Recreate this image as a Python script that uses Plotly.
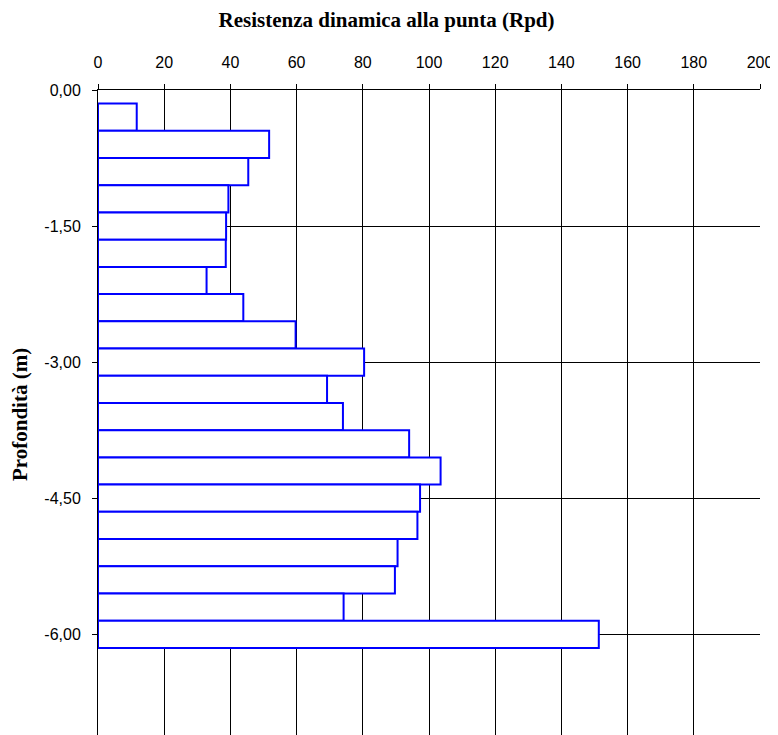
import plotly.graph_objects as go


# profondità (m) del centro di ogni intervallo e resistenza Rpd letta
depths = [-0.30, -0.60, -0.90, -1.20, -1.50, -1.80, -2.10, -2.40, -2.70, -3.00,
          -3.30, -3.60, -3.90, -4.20, -4.50, -4.80, -5.10, -5.40, -5.70, -6.00]
rpd = [11.7, 51.7, 45.4, 39.4, 38.7, 38.6, 32.8, 43.9, 59.7, 80.4,
       69.2, 74.0, 94.0, 103.5, 97.3, 96.5, 90.5, 89.7, 74.2, 151.3]

y_tickvals = [0, -1.5, -3.0, -4.5, -6.0]
y_ticktext = ["0,00", "-1,50", "-3,00", "-4,50", "-6,00"]

TICK_FONT = {"family": "Arial, Liberation Sans, sans-serif", "size": 16, "color": "#000000"}
SERIF = "Times New Roman, Liberation Serif, serif"

# the page body adds an 8px offset, margins compensate for it
PAGE_OFFSET = 8
M_LEFT = 98 - PAGE_OFFSET
M_TOP = 90 - PAGE_OFFSET
M_RIGHT = 18 + PAGE_OFFSET
PLOT_H = 735 - M_TOP
PX_PER_M = 645 / 7.11

fig = go.Figure()
fig.add_trace(
    go.Bar(
        x=rpd,
        y=depths,
        orientation="h",
        width=0.3,
        marker={
            "color": "#FFFFFF",
            "line": {"color": "#0000FF", "width": 2},
        },
        showlegend=False,
    )
)

fig.update_layout(
    width=778,
    height=735,
    paper_bgcolor="#FFFFFF",
    plot_bgcolor="#FFFFFF",
    margin={"l": M_LEFT, "r": M_RIGHT, "t": M_TOP, "b": 0},
    title={
        "text": "<b>Resistenza dinamica alla punta (Rpd)</b>",
        "font": {"family": SERIF, "size": 21, "color": "#000000"},
        "xref": "container",
        "x": (386.5 - PAGE_OFFSET) / 778,
        "xanchor": "center",
        "yref": "container",
        "y": 1 - (20 - PAGE_OFFSET) / 735,
        "yanchor": "middle",
    },
    annotations=[
        {
            "text": "<b>Profondità (m)</b>",
            "textangle": -90,
            "xref": "paper",
            "yref": "paper",
            "x": (20 - 98) / 662,
            "y": 1 - (415 - 90) / PLOT_H,
            "xanchor": "center",
            "yanchor": "middle",
            "showarrow": False,
            "font": {"family": SERIF, "size": 21, "color": "#000000"},
        }
    ],
)

fig.update_xaxes(
    side="top",
    range=[0, 200],
    tick0=0,
    dtick=20,
    ticks="outside",
    ticklen=5,
    tickcolor="#000000",
    tickfont=TICK_FONT,
    ticklabelstandoff=10,
    showgrid=True,
    gridcolor="#000000",
    gridwidth=1,
    showline=True,
    linecolor="#000000",
    linewidth=1,
    zeroline=False,
)
fig.update_yaxes(
    range=[-PLOT_H / PX_PER_M, 0],
    tickvals=y_tickvals,
    ticktext=y_ticktext,
    ticks="outside",
    ticklen=5,
    tickcolor="#000000",
    tickfont=TICK_FONT,
    ticklabelstandoff=8,
    showgrid=True,
    gridcolor="#000000",
    gridwidth=1,
    showline=True,
    linecolor="#000000",
    linewidth=1,
    zeroline=False,
)

fig.write_html("out.html")
